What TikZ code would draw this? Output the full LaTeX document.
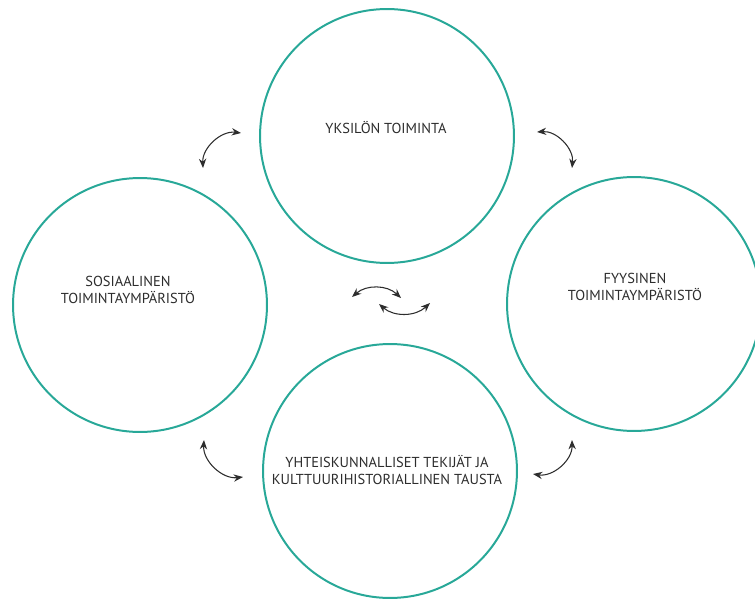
\documentclass[tikz,border=0pt]{standalone}
\usepackage{fontspec}
\setmainfont{PT Sans}
\usetikzlibrary{arrows.meta}
\definecolor{ringteal}{RGB}{40,168,152}
\definecolor{txtgray}{RGB}{45,45,45}

\begin{document}
\begin{tikzpicture}[x=0.0265cm,y=-0.0265cm]
\tikzstyle{every node}=[font=\fontsize{10.9}{13.2}\selectfont,text=txtgray]
\tikzstyle{ring}=[draw=ringteal,line width=1.5pt,circle,minimum size=6.73cm,inner sep=0pt]
\tikzstyle{linkarrow}=[{Stealth[length=7pt,width=5.5pt]}-{Stealth[length=7pt,width=5.5pt]},line width=0.8pt,draw=txtgray]
\useasboundingbox (0,0) rectangle (755,601);

% the four circles
\node[ring] (yksilo) at (387,136) {};
\node[ring] (sosiaalinen) at (140,305) {};
\node[ring] (fyysinen) at (634,304) {};
\node[ring] (yhteiskunta) at (390,471) {};

\node[align=center] (yksilotxt) at (386,128) {YKSILÖN TOIMINTA};
\node[align=center] (sosiaalinentxt) at (128,290) {SOSIAALINEN\\TOIMINTAYMPÄRISTÖ};
\node[align=center] (fyysinentxt) at (635,287) {FYYSINEN\\TOIMINTAYMPÄRISTÖ};
\node[align=center] (yhteiskuntatxt) at (387,470) {YHTEISKUNNALLISET TEKIJÄT JA\\KULTTUURIHISTORIALLINEN TAUSTA};

% arrow ends
\coordinate (tl1) at (203,168); \coordinate (tl2) at (241,133);
\coordinate (tr1) at (537,132); \coordinate (tr2) at (572,168);
\coordinate (br1) at (572,440); \coordinate (br2) at (533,474);
\coordinate (bl1) at (243,477); \coordinate (bl2) at (204,440);
\coordinate (c1) at (352,297); \coordinate (c2) at (401,298);
\coordinate (c3) at (430,303); \coordinate (c4) at (379,304);

\draw[linkarrow] (tl1) to[bend left=50] (tl2);
\draw[linkarrow] (tr1) to[bend left=50] (tr2);
\draw[linkarrow] (br1) to[bend left=50] (br2);
\draw[linkarrow] (bl1) to[bend left=50] (bl2);
\draw[linkarrow] (c1) to[bend left=42] (c2);
\draw[linkarrow] (c3) to[bend left=42] (c4);

\end{tikzpicture}
\end{document}
